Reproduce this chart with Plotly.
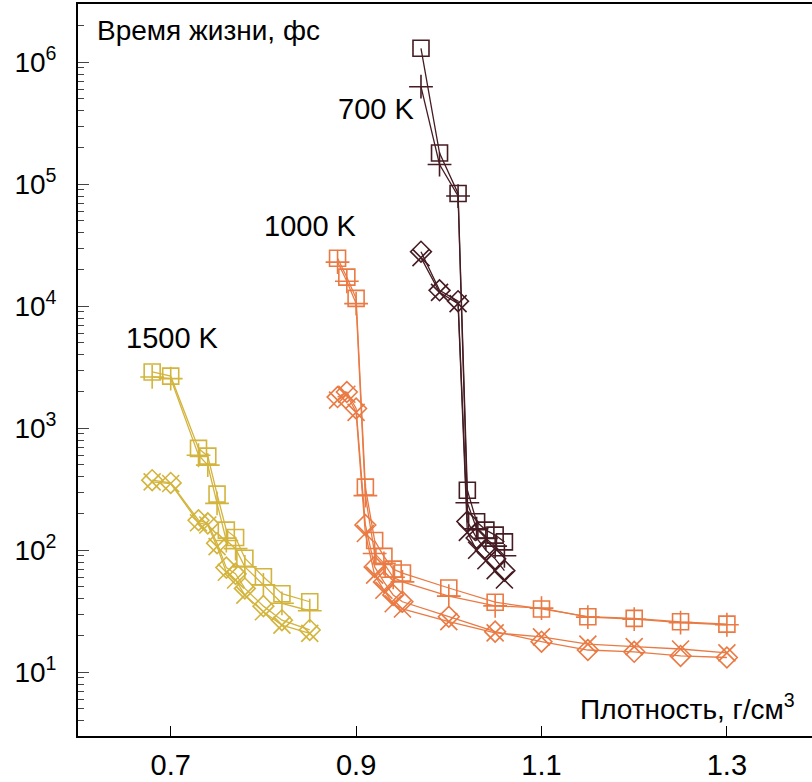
import plotly.graph_objects as go
import numpy as np

# ---- data ----
# 700 K
x700_sq = [0.97, 0.99, 1.01, 1.02, 1.03, 1.04, 1.05, 1.06]
y700_sq = [1.3e6, 1.8e5, 8.4e4, 310, 171, 146, 133, 117]
x700_pl = [0.97, 0.99, 1.01, 1.02, 1.03, 1.04, 1.05, 1.06]
y700_pl = [6.3e5, 1.45e5, 8.0e4, 245, 150, 125, 108, 90]
x700_di = [0.97, 0.99, 1.01, 1.02, 1.03, 1.04, 1.05, 1.06]
y700_di = [2.8e4, 1.35e4, 1.1e4, 172, 126, 100, 85, 68]
x700_cr = [0.97, 0.99, 1.01, 1.02, 1.03, 1.04, 1.05, 1.06]
y700_cr = [2.5e4, 1.3e4, 1.05e4, 140, 100, 82, 68, 57]

# 1000 K
x1000 = [0.88, 0.89, 0.90, 0.91, 0.92, 0.93, 0.94, 0.95, 1.00, 1.05, 1.10, 1.15, 1.20, 1.25, 1.30]
y1000_sq = [2.47e4, 1.73e4, 1.16e4, 329, 120, 89, 70, 65, 49, 37.5, 33, 28.5, 27.6, 25.9, 24.8]
y1000_pl = [2.3e4, 1.6e4, 1.05e4, 280, 94, 78, 60, 55, 42, 35, 33.5, 28.3, 27.2, 25.5, 24.5]
y1000_di = [1800, 1980, 1450, 161, 73, 55, 43, 37.8, 28.5, 21.5, 17.8, 15.2, 14.7, 13.6, 13.2]
y1000_cr = [1700, 1900, 1350, 137, 62.5, 47, 36.4, 33, 26, 21, 19.5, 17, 16.2, 15.5, 14.4]

# 1500 K
x1500 = [0.68, 0.70, 0.73, 0.74, 0.75, 0.76, 0.77, 0.78, 0.80, 0.82, 0.85]
y1500_sq = [2890, 2670, 683, 590, 288, 146, 127, 86, 60.6, 44, 37.8]
y1500_pl = [2630, 2550, 600, 498, 242, 120, 103, 73, 52, 36.7, 31.9]
y1500_di = [375, 356, 176, 166, 114, 72, 64, 48.6, 34.8, 26.7, 22.2]
y1500_cr = [363, 352, 168, 161, 107, 66, 57, 42.8, 31.3, 24.3, 20.8]

temps = ["700 K", "1000 K", "1500 K"]
colors = {"700 K": "#451c23", "1000 K": "#ea7a43", "1500 K": "#d3b43c"}

series = [
    ("700 K", x700_sq, y700_sq, "square-open"),
    ("700 K", x700_pl, y700_pl, "cross-thin-open"),
    ("700 K", x700_di, y700_di, "diamond-open"),
    ("700 K", x700_cr, y700_cr, "x-thin-open"),
    ("1000 K", x1000, y1000_sq, "square-open"),
    ("1000 K", x1000, y1000_pl, "cross-thin-open"),
    ("1000 K", x1000, y1000_di, "diamond-open"),
    ("1000 K", x1000, y1000_cr, "x-thin-open"),
    ("1500 K", x1500, y1500_sq, "square-open"),
    ("1500 K", x1500, y1500_pl, "cross-thin-open"),
    ("1500 K", x1500, y1500_di, "diamond-open"),
    ("1500 K", x1500, y1500_cr, "x-thin-open"),
]

xtick_vals = [0.7, 0.9, 1.1, 1.3]
xtick_text = ["0.7", "0.9", "1.1", "1.3"]
ytick_vals = [10, 100, 1000, 1e4, 1e5, 1e6]
ytick_text = ["10<sup>1</sup>", "10<sup>2</sup>", "10<sup>3</sup>",
              "10<sup>4</sup>", "10<sup>5</sup>", "10<sup>6</sup>"]

fig = go.Figure()
for t, xs, ys, sym in series:
    c = colors[t]
    size = 16 if sym in ("square-open", "diamond-open") else 17
    fig.add_trace(go.Scatter(
        x=xs, y=ys, mode="lines+markers",
        line=dict(color=c, width=1.3),
        marker=dict(symbol=sym, size=size, color=c, line=dict(color=c, width=1.6)),
        showlegend=False,
    ))

minor_vals = [k * 10 ** n for n in range(0, 7) for k in range(2, 10) if 3 <= k * 10 ** n <= 3e6]

font = "Liberation Sans, Arial, sans-serif"
fig.update_layout(
    width=812, height=782,
    margin=dict(l=78, r=0, t=4, b=46),
    paper_bgcolor="white", plot_bgcolor="white",
    font=dict(family=font, color="black", size=28),
    xaxis=dict(
        range=[0.6, 1.3918], tickvals=xtick_vals, ticktext=xtick_text,
        ticks="inside", ticklen=10, tickwidth=1.3, tickcolor="black",
        showline=True, linecolor="black", linewidth=1.8, mirror=True,
        showgrid=False, zeroline=False, ticklabelstandoff=2, automargin=False,
        tickfont=dict(size=29),
    ),
    yaxis=dict(
        type="log", range=[np.log10(3), np.log10(3e6)],
        tickvals=ytick_vals, ticktext=ytick_text,
        ticks="inside", ticklen=11, tickwidth=1.3, tickcolor="#444",
        showline=True, linecolor="black", linewidth=1.8,
        showgrid=False, zeroline=False, ticklabelstandoff=14, automargin=False,
        tickfont=dict(size=28),
        minor=dict(tickvals=minor_vals, ticks="inside", ticklen=6, tickwidth=1.2,
                   tickcolor="#444", showgrid=False),
    ),
)

fig.add_annotation(xref="paper", yref="paper", x=0.023, y=0.988, xanchor="left", yanchor="top",
                   text="Время жизни, фс", showarrow=False, font=dict(size=28))
fig.add_annotation(xref="paper", yref="paper", x=0.98, y=0.012, xanchor="right", yanchor="bottom",
                   text="Плотность, г/см<sup>3</sup>", showarrow=False, font=dict(size=28))

label_pos = {"700 K": (0.921, 5.62), "1000 K": (0.851, 4.654), "1500 K": (0.702, 3.737)}
for t in temps:
    lx, ly = label_pos[t]
    fig.add_annotation(x=lx, y=ly, text=t, showarrow=False, font=dict(size=29))

fig.write_html("out.html", config={"displayModeBar": False},
               post_script="document.body.style.margin='0';document.body.style.overflow='hidden';")
